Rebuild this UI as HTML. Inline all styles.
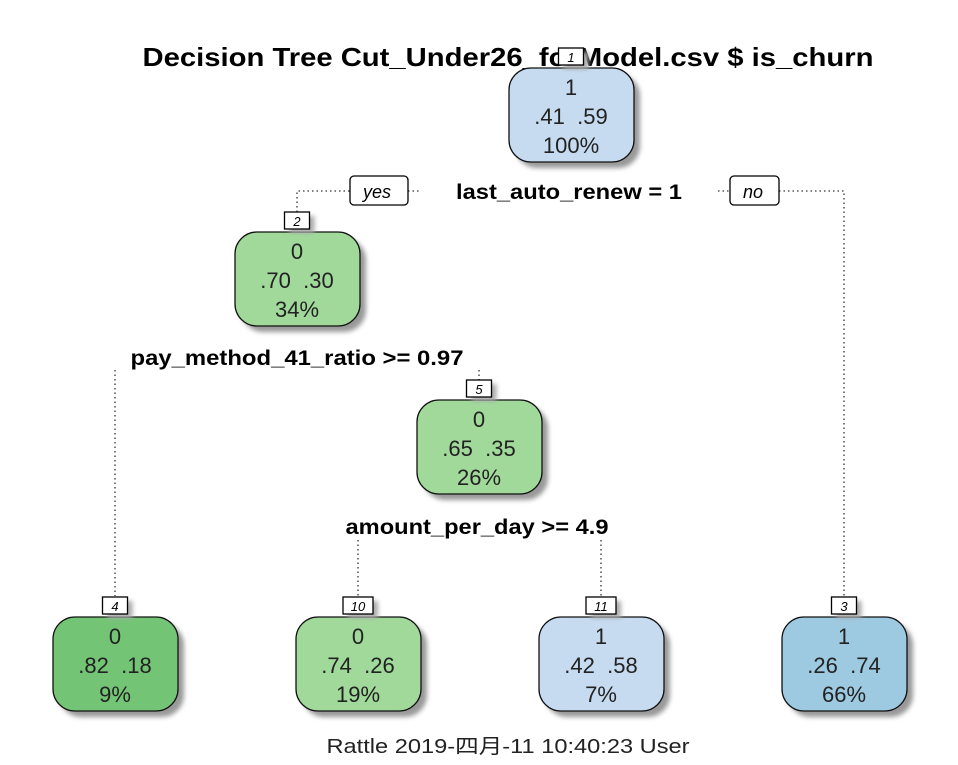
<!DOCTYPE html>
<html><head><meta charset="utf-8"><style>
body{margin:0;background:#fff;}
svg text{font-family:"Liberation Sans","Noto Sans CJK SC",sans-serif;}
</style></head><body>
<svg id="chart" width="958" height="760" viewBox="0 0 958 760" xmlns="http://www.w3.org/2000/svg">
<defs><filter id="blur" x="-20%" y="-20%" width="140%" height="140%"><feGaussianBlur stdDeviation="2.5"/></filter></defs>
<text x="508" y="66" text-anchor="middle" font-size="26" font-weight="bold" textLength="731" lengthAdjust="spacingAndGlyphs">Decision Tree Cut_Under26_forModel.csv $ is_churn</text>
<g id="edges" stroke="#333" stroke-width="1.3" stroke-dasharray="1.5 3" fill="none">
<polyline points="297,212 297,191 350,191"/><line x1="408" y1="191" x2="420" y2="191"/>
<line x1="718" y1="191" x2="730" y2="191"/><polyline points="779,191 844,191 844,596"/>
<line x1="115" y1="370" x2="115" y2="596"/><line x1="479" y1="370" x2="479" y2="380"/>
<line x1="358" y1="540" x2="358" y2="596"/><line x1="601" y1="540" x2="601" y2="596"/>
</g>
<g id="nodes"></g>
<g><rect x="350" y="176" width="58" height="29" rx="4" fill="#fff" stroke="#000" stroke-width="1.3"/><text x="377" y="198" text-anchor="middle" font-size="18" font-style="italic">yes</text></g>
<g><rect x="730" y="176" width="49" height="29" rx="4" fill="#fff" stroke="#000" stroke-width="1.3"/><text x="753" y="198" text-anchor="middle" font-size="18" font-style="italic">no</text></g>
<text x="569" y="199" text-anchor="middle" font-size="21" font-weight="bold" textLength="226" lengthAdjust="spacingAndGlyphs">last_auto_renew = 1</text>
<text x="297" y="365" text-anchor="middle" font-size="21" font-weight="bold" textLength="333" lengthAdjust="spacingAndGlyphs">pay_method_41_ratio &gt;= 0.97</text>
<text x="477" y="534" text-anchor="middle" font-size="21" font-weight="bold" textLength="263" lengthAdjust="spacingAndGlyphs">amount_per_day &gt;= 4.9</text>
<text x="508" y="753" text-anchor="middle" font-size="20" fill="#222" textLength="363" lengthAdjust="spacingAndGlyphs">Rattle 2019-四月-11 10:40:23 User</text>
</svg>
<script>
const nodeIds=["1","2","5","4","10","11","3"];
const nodeClass=["1","0","0","0","0","1","1"];
const prob0=[".41",".70",".65",".82",".74",".42",".26"];
const prob1=[".59",".30",".35",".18",".26",".58",".74"];
const pct=["100%","34%","26%","9%","19%","7%","66%"];
const colors=["#c6dbef","#a1d99b","#a1d99b","#74c476","#a1d99b","#c6dbef","#9ecae1"];
const cx=[571,297,479,115,358,601,844];
const topY=[68,232,400,617,617,617,617];
const NS="http://www.w3.org/2000/svg";
const g=document.getElementById('nodes');
function mk(t,a){const e=document.createElementNS(NS,t);for(const k in a)e.setAttribute(k,a[k]);return e;}
for(let i=0;i<nodeIds.length;i++){
  const x=cx[i]-62,y=topY[i],w=125,h=94;
  const grp=mk('g',{});
  
  
  grp.appendChild(mk('rect',{x:x+6,y:y+6,width:w,height:h,rx:22,fill:'#999',filter:'url(#blur)'}));
  grp.appendChild(mk('rect',{x:x,y:y,width:w,height:h,rx:22,fill:colors[i],stroke:'#111','stroke-width':1.3}));
  const lw=nodeIds[i].length>1?30:25;
  grp.appendChild(mk('rect',{x:cx[i]-lw/2+5,y:y-20+4,width:lw,height:17,fill:'#aaa',filter:'url(#blur)'}));
  grp.appendChild(mk('rect',{x:cx[i]-lw/2,y:y-20,width:lw,height:17,fill:'#fff',stroke:'#000','stroke-width':1.3}));
  const idt=mk('text',{x:cx[i],y:y-6,'text-anchor':'middle','font-size':13,'font-style':'italic'});idt.textContent=nodeIds[i];grp.appendChild(idt);
  const lines=[nodeClass[i],prob0[i]+"  "+prob1[i],pct[i]];
  lines.forEach((s,j)=>{const t=mk('text',{x:cx[i],y:y+27+j*29,'text-anchor':'middle','font-size':22,fill:'#222'});t.style.whiteSpace='pre';t.textContent=s;grp.appendChild(t);});
  g.appendChild(grp);
}
</script>
</body></html>
